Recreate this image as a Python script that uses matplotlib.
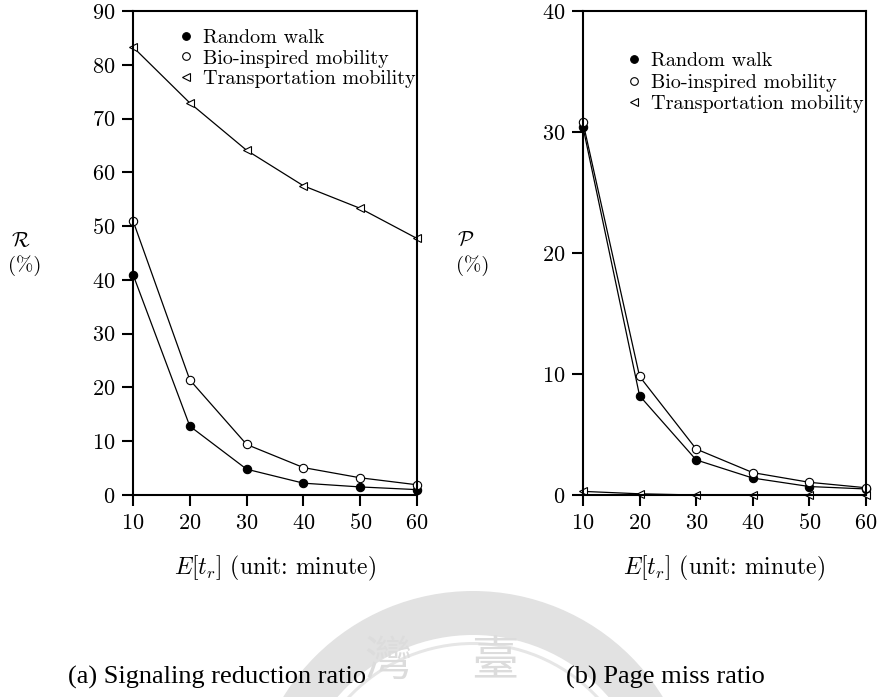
import numpy as np
import matplotlib
matplotlib.use('Agg')
import matplotlib.pyplot as plt
from matplotlib.patches import Wedge

plt.rcParams['font.family'] = 'serif'
plt.rcParams['font.serif'] = ['cmr10']
plt.rcParams['mathtext.fontset'] = 'cm'
plt.rcParams['axes.formatter.use_mathtext'] = True

# mean residence time E[t_r] (minutes)
x = [10, 20, 30, 40, 50, 60]

# (a) signaling reduction ratio R (%)
r_random = [41.0, 12.8, 4.8, 2.2, 1.5, 1.0]
r_bio    = [51.0, 21.4, 9.4, 5.1, 3.2, 1.9]
r_trans  = [83.3, 72.9, 64.1, 57.5, 53.3, 47.7]

# (b) page miss ratio P (%)
p_random = [30.4, 8.2, 2.9, 1.4, 0.7, 0.5]
p_bio    = [30.8, 9.8, 3.8, 1.85, 1.05, 0.6]
p_trans  = [0.3, 0.1, 0.0, 0.0, 0.0, 0.0]

labels = ['Random walk', 'Bio-inspired mobility', 'Transportation mobility']

fig = plt.figure(figsize=(8.78, 6.97), dpi=100)

# faint watermark of the scanned thesis page, pixel coordinates
bg = fig.add_axes([0, 0, 1, 1], zorder=-5)
bg.set_xlim(0, 878)
bg.set_ylim(697, 0)
bg.axis('off')
bg.add_patch(Wedge((473, 814), 223, 0, 360, width=44, facecolor='#e2e2e2', edgecolor='none'))
bg.add_patch(Wedge((473, 814), 172, 0, 360, width=3, facecolor='#e6e6e6', edgecolor='none'))
bg.text(388, 662, '灣', fontsize=34, color='#dcdcdc', ha='center', va='center',
        family='Noto Sans CJK TC')
bg.text(495, 662, '臺', fontsize=34, color='#dcdcdc', ha='center', va='center',
        family='Noto Sans CJK TC')

ax1 = fig.add_axes([0.1515, 0.2898, 0.3235, 0.6944])
ax2 = fig.add_axes([0.664, 0.2898, 0.3223, 0.6944])


def draw(ax, ys, ymax, yticks, leg_anchor, spacing):
    styles = [dict(marker='o', mfc='black', mec='black'),
              dict(marker='o', mfc='white', mec='black'),
              dict(marker='<', mfc='white', mec='black')]
    for y, st, lab in zip(ys, styles, labels):
        ax.plot(x, y, color='black', lw=0.9, ms=6, mew=0.8,
                clip_on=False, label=lab, **st)
    ax.set_xlim(10, 60)
    ax.set_ylim(0, ymax)
    ax.set_xticks(x)
    ax.set_yticks(yticks)
    ax.tick_params(direction='out', length=8, width=1.5, labelsize=16)
    ax.tick_params(axis='y', pad=5)
    ax.tick_params(axis='x', pad=5)
    for s in ax.spines.values():
        s.set_linewidth(1.5)
    h, l = ax.get_legend_handles_labels()
    h = [plt.Line2D([], [], ls='none', color='black', ms=5.5, mew=0.8,
                    marker=hh.get_marker(), mfc=hh.get_mfc(), mec='black') for hh in h]
    ax.legend(h, l, loc='upper left', bbox_to_anchor=leg_anchor, frameon=False,
              fontsize=14.5, handlelength=0.8, handletextpad=0.45,
              labelspacing=spacing, borderaxespad=0, borderpad=0)
    ax.set_xlabel(r'$E[t_r]$ (unit: minute)', fontsize=17, labelpad=15)


draw(ax1, [r_random, r_bio, r_trans], 90, [0, 10, 20, 30, 40, 50, 60, 70, 80, 90],
     (0.158, 0.963), 0.12)
draw(ax2, [p_random, p_bio, p_trans], 40, [0, 10, 20, 30, 40],
     (0.1516, 0.915), 0.16)

fig.text(0.012, 0.654, r'$\mathcal{R}$', fontsize=15, ha='left', va='center')
fig.text(0.009, 0.619, '(%)', fontsize=15, ha='left', va='center')
fig.text(0.521, 0.654, r'$\mathcal{P}$', fontsize=15, ha='left', va='center')
fig.text(0.519, 0.619, '(%)', fontsize=15, ha='left', va='center')

fig.text(0.0774, 0.0287, '(a) Signaling reduction ratio', fontsize=19,
         family='Liberation Serif', ha='left', va='center')
fig.text(0.6446, 0.0287, '(b) Page miss ratio', fontsize=19,
         family='Liberation Serif', ha='left', va='center')

fig.savefig('out.png', dpi=100)
